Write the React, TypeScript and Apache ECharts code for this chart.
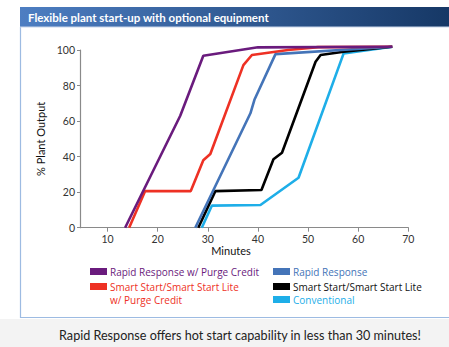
import React, { useEffect, useRef } from "react";
import * as echarts from "echarts";

const titleText = "Flexible plant start-up with optional equipment";
const footerText = "Rapid Response offers hot start capability in less than 30 minutes!";
const xAxisName = "Minutes";
const yAxisName = "% Plant Output";
const minuteTicks = [10, 20, 30, 40, 50, 60, 70];

const seriesNames = [
  "Rapid Response w/ Purge Credit",
  "Smart Start/Smart Start Lite\nw/ Purge Credit",
  "Rapid Response",
  "Smart Start/Smart Start Lite",
  "Conventional",
];
const seriesColors = ["#6a1b7d", "#ee3124", "#4474b8", "#000000", "#1eaee8"];
const legendTextColors = ["#6a1b7d", "#ee3124", "#4474b8", "#111111", "#1eaee8"];

const rapidPurge: [number, number][] = [[13.5, 0], [24.5, 63], [29.1, 96.8], [40, 101.5], [66.8, 101.8]];
const smartPurge: [number, number][] = [[14.3, 0], [17.5, 20.6], [26.6, 20.6], [29.1, 38], [30.5, 41.5], [37.1, 91.5], [38.8, 97.2], [46, 100], [52, 101.6], [66.8, 101.8]];
const rapid: [number, number][] = [[27.5, 0], [38.5, 64.4], [39.3, 72], [43.5, 97.7], [66.8, 101.8]];
const smart: [number, number][] = [[28.1, 0], [31.5, 20.6], [40.7, 21.2], [43.1, 38.5], [44.8, 42.2], [51.5, 93.4], [52.5, 97.2], [57.1, 99], [66.8, 101.8]];
const conventional: [number, number][] = [[28.8, 0], [30.8, 12.4], [40.5, 12.8], [48.1, 28.1], [57.1, 98.1], [66.8, 101.8]];
const seriesData = [rapidPurge, smartPurge, rapid, smart, conventional];

const legendLayout = [
  { x: 90, y: 268 },
  { x: 90, y: 283 },
  { x: 273, y: 268 },
  { x: 273, y: 283 },
  { x: 273, y: 296 },
];

export default function App() {
  const ref = useRef<HTMLDivElement>(null);
  useEffect(() => {
    document.body.style.margin = "0";
    if (!ref.current) return;
    const chart = echarts.init(ref.current, null, { renderer: "svg" });
    const font = "Lato";
    const legendFont = "'Open Sans'";
    const legendGraphics: any[] = [];
    seriesNames.forEach((name, i) => {
      const p = legendLayout[i];
      legendGraphics.push({
        type: "rect",
        shape: { x: p.x, y: p.y, width: 17, height: 7 },
        style: { fill: seriesColors[i] },
        silent: true,
      });
      name.split("\n").forEach((line, j) => {
        legendGraphics.push({
          type: "text",
          x: p.x + 20,
          y: p.y + 3.5 + j * 13,
          style: {
            text: line,
            fill: legendTextColors[i],
            font: `10px ${legendFont}`,
            verticalAlign: "middle",
          },
          silent: true,
        });
      });
    });
    chart.setOption({
      animation: false,
      backgroundColor: "#ffffff",
      textStyle: { fontFamily: font },
      graphic: [
        {
          type: "rect",
          shape: { x: 0, y: 319, width: 449, height: 28 },
          style: { fill: "#f3f3f3" },
          silent: true,
        },
        {
          type: "polyline",
          shape: { points: [[20.5, 27], [20.5, 317.5], [449, 317.5]] },
          style: { stroke: "#9dbbe2", lineWidth: 1.2, fill: "none" },
          silent: true,
        },
        {
          type: "rect",
          shape: { x: 20, y: 7, width: 429, height: 20 },
          style: {
            fill: new echarts.graphic.LinearGradient(0, 0, 1, 0, [
              { offset: 0, color: "#4d7ec2" },
              { offset: 1, color: "#163866" },
            ]),
          },
          silent: true,
        },
        {
          type: "line",
          shape: { x1: 20, y1: 27, x2: 449, y2: 27 },
          style: { stroke: "#c9d6ea", lineWidth: 1 },
          silent: true,
        },
        {
          type: "text",
          x: 28,
          y: 17,
          style: {
            text: titleText,
            fill: "#ffffff",
            font: `bold 11.5px ${font}`,
            verticalAlign: "middle",
          },
          silent: true,
        },
        {
          type: "text",
          x: 231,
          y: 250.5,
          style: {
            text: xAxisName,
            fill: "#111111",
            font: `11px ${font}`,
            align: "center",
            verticalAlign: "middle",
          },
          silent: true,
        },
        {
          type: "text",
          x: 240,
          y: 335,
          style: {
            text: footerText,
            fill: "#222222",
            font: `12.6px ${font}`,
            align: "center",
            verticalAlign: "middle",
          },
          silent: true,
        },
        ...legendGraphics,
      ],
      grid: { left: 80, right: 40.7, top: 50, bottom: 119.3, containLabel: false },
      xAxis: {
        type: "value",
        min: 4.5,
        max: 70,
        axisLine: { show: true, lineStyle: { color: "#8a8a8a", width: 1.2 } },
        axisTick: { show: true, length: 4, customValues: minuteTicks, lineStyle: { color: "#8a8a8a" } },
        axisLabel: { customValues: minuteTicks, color: "#333", fontSize: 10.5, margin: 6, fontFamily: font },
        splitLine: { show: false },
      },
      yAxis: {
        type: "value",
        min: 0,
        max: 100,
        interval: 20,
        name: yAxisName,
        nameLocation: "middle",
        nameGap: 29,
        nameRotate: 90,
        nameTextStyle: { color: "#111", fontSize: 11, fontFamily: font },
        axisLine: { show: true, lineStyle: { color: "#8a8a8a", width: 1.2 } },
        axisTick: { show: true, length: 3, lineStyle: { color: "#8a8a8a" } },
        axisLabel: { color: "#333", fontSize: 10.5, margin: 5, fontFamily: font },
        splitLine: { show: false },
      },
      series: seriesNames.map((name, i) => ({
        type: "line",
        name,
        data: seriesData[i],
        showSymbol: false,
        symbol: "none",
        clip: false,
        z: 10 - i,
        lineStyle: { color: seriesColors[i], width: 2.6 },
      })),
    });
    return () => chart.dispose();
  }, []);
  return <div ref={ref} style={{ position: "absolute", left: 0, top: 0, width: 449, height: 347 }} />;
}
